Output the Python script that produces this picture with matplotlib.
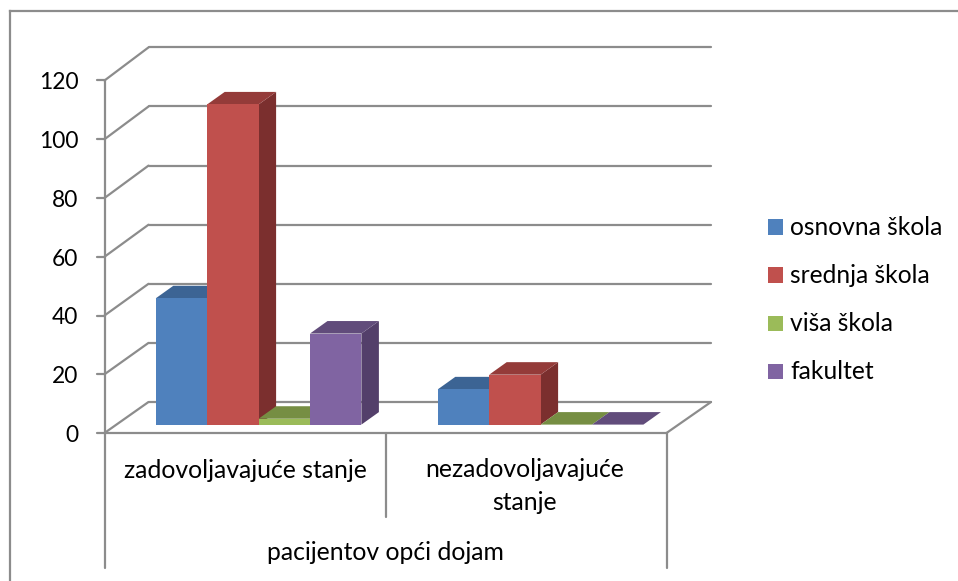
import matplotlib
matplotlib.use("Agg")
import matplotlib.pyplot as plt
from matplotlib.patches import Polygon, Rectangle

plt.rcParams['font.family'] = ['Lato', 'DejaVu Sans']

groups = ["zadovoljavajuće stanje", "nezadovoljavajuće\nstanje"]
outer_label = "pacijentov opći dojam"
series = ["osnovna škola", "srednja škola", "viša škola", "fakultet"]
osnovna = [43, 12]
srednja = [109, 17]
visa = [2, 0]
fakultet = [31, 0]
values = [osnovna, srednja, visa, fakultet]
yticks = [0, 20, 40, 60, 80, 100, 120]

front = ["#4F81BD", "#C0504D", "#9BBB59", "#8064A2"]
top = ["#3C6494", "#943B39", "#768E43", "#614C7B"]
side = ["#335680", "#7B2F2E", "#657A3A", "#533F6A"]
GRID = "#8C8C8C"

W, H = 958, 581
fig = plt.figure(figsize=(W / 100, H / 100), dpi=100)
L, R, Y0, Y120 = 104.5, 666.5, 433.0, 80.5
ax = fig.add_axes([L / W, 1 - Y0 / H, (R - L) / W, (Y0 - Y120) / H])
ax.set_xlim(0, 2)
ax.set_ylim(0, 120)
ax.patch.set_alpha(0)
for s in ax.spines.values():
    s.set_visible(False)
ax.set_xticks([])
ax.set_yticks([])

px = (R - L) / 2          # pixels per category
py = (Y0 - Y120) / 120    # pixels per unit


def P(x, y, dx=0.0, dy=0.0):
    """data point moved by a pixel offset (depth projection)"""
    return (x + dx / px, y + dy / py)


LW = 1.6
line = dict(color=GRID, lw=LW, clip_on=False, solid_capstyle="round", zorder=1)
# back wall gridlines, side wall diagonals, ticks
for v in yticks:
    back = P(0, v, 44, 31 + v * 0.0175)
    ax.plot([0, back[0]], [v, back[1]], **line)
    end = P(2, v, 44.5, 31 + v * 0.0175)
    ax.plot([back[0], end[0]], [back[1], end[1]], **line)
    tick = P(0, v, -8)
    ax.plot([tick[0], 0], [v, v], **line)
    ax.text(*P(0, v, -26, -2.5), str(v), ha="right", va="center", fontsize=16.4, color="black")
# vertical value axis and floor front edge
ax.plot([0, 0], [0, 120], **line)
ax.plot([0, 2], [0, 0], **line)
ax.plot([2, P(2, 0, 44.5)[0]], [0, P(2, 0, 44.5, 31)[1]], **line)

# bars
BW = 51.4 / px
FIRST = 51.3 / px
BASE = 8.4
SDX, SDY = 17.5, 12.5
for g in range(2):
    for i in range(4):
        v = values[i][g]
        x0 = g + FIRST + i * BW + (1.0 / px if g else 0)
        x1 = x0 + BW
        y0 = BASE / py
        y1 = y0 + v
        z = 3 + g * 10 + i
        if v > 0:
            ax.add_patch(Polygon([(x1, y0), P(x1, y0, SDX, SDY), P(x1, y1, SDX, SDY), (x1, y1)],
                                 fc=side[i], ec="none", zorder=z, clip_on=False))
        ax.add_patch(Polygon([(x0, y1), P(x0, y1, SDX, SDY), P(x1, y1, SDX, SDY), (x1, y1)],
                             fc=top[i], ec="none", zorder=z, clip_on=False))
        if v > 0:
            ax.add_patch(Rectangle((x0, y0), BW, v, fc=front[i], ec="none",
                                   zorder=z + 0.5, clip_on=False))

# multi-level category axis
ax.plot([0, 0], [0, P(0, 0, 0, -135.0)[1]], **line)
ax.plot([1, 1], [0, P(1, 0, 0, -84)[1]], **line)
ax.plot([2, 2], [0, P(2, 0, 0, -135.0)[1]], **line)
FS = 17.8
ax.text(*P(0.5, 0, 0, -37), groups[0], ha="center", va="center", fontsize=FS, color="black")
ax.text(*P(1.5, 0, -1, -53), groups[1], ha="center", va="center", fontsize=FS, color="black",
        linespacing=1.55)
ax.text(*P(1.0, 0, 0, -120), outer_label, ha="center", va="center", fontsize=FS, color="black")

# legend drawn in figure pixels
for i, name in enumerate(series):
    y = 227 + i * 48
    fig.patches.append(Rectangle((768 / W, 1 - (y + 7.5) / H), 15 / W, 15 / H, fc=front[i], ec="none",
                                 transform=fig.transFigure))
    fig.text(790 / W, 1 - (y + 0.5) / H, name, ha="left", va="center", fontsize=17.7, color="black")

# outer chart frame
frame = dict(color="#8C8C8C", lw=1.6, transform=fig.transFigure)
fig.add_artist(plt.Line2D([9.5 / W, 9.5 / W], [0, 1 - 11 / H], **frame))
fig.add_artist(plt.Line2D([9.5 / W, 1], [1 - 11 / H, 1 - 11 / H], **frame))

fig.savefig("out.png", dpi=100, facecolor="white")
